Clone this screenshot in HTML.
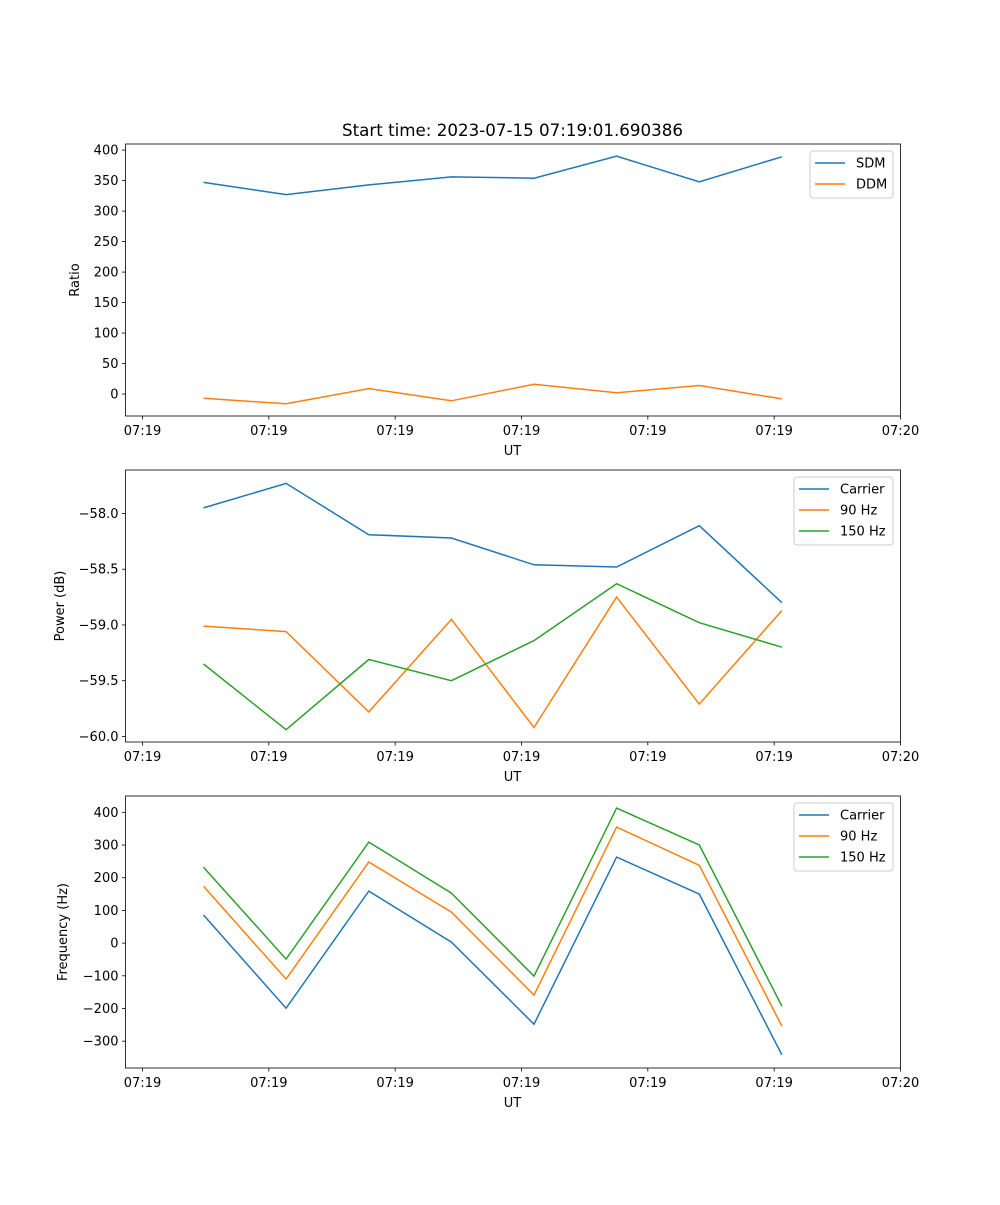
<!DOCTYPE html>
<html><head><meta charset="utf-8"><style>
body{margin:0;background:#fff}
svg text{font-family:"DejaVu Sans","Liberation Sans",sans-serif;font-size:13px;fill:#000}
</style></head><body>
<svg id="fig" width="1000" height="1200" xmlns="http://www.w3.org/2000/svg">
<text x="512.5" y="136" text-anchor="middle" style="font-size:16.7px">Start time: 2023-07-15 07:19:01.690386</text>
</svg>
<script>
const xTickVals=[0,10,20,30,40,50,60];
const xTickLabels=["07:19","07:19","07:19","07:19","07:19","07:19","07:20"];
const times=[4.83,11.37,17.91,24.45,30.99,37.53,44.07,50.61];
const sdm=[347,327,343,356,354,390,348,389];
const ddm=[-7,-16,9,-11,16,2,14,-8];
const pCarrier=[-57.95,-57.73,-58.19,-58.22,-58.46,-58.48,-58.11,-58.80];
const p90=[-59.01,-59.06,-59.78,-58.95,-59.92,-58.75,-59.71,-58.87];
const p150=[-59.35,-59.94,-59.31,-59.50,-59.14,-58.63,-58.98,-59.20];
const fCarrier=[86,-199,159,3,-248,263,150,-342];
const f90=[174,-110,248,95,-159,355,238,-254];
const f150=[232,-49,309,153,-101,413,300,-193];
const ticks1=[0,50,100,150,200,250,300,350,400];
const ticks2=[-60.0,-59.5,-59.0,-58.5,-58.0];
const ticks3=[-300,-200,-100,0,100,200,300,400];

const NS="http://www.w3.org/2000/svg";
const svg=document.getElementById('fig');
const C={b:'#1f77b4',o:'#ff7f0e',g:'#2ca02c'};
const L=125.5,R=900.5;
function xs(t){return 142.5+(t/60)*(900.5-142.5);}
function mk(tag,a){const e=document.createElementNS(NS,tag);for(const k in a)e.setAttribute(k,a[k]);svg.appendChild(e);return e;}
function fmt(v,d){let s=v.toFixed(d);return s.replace('-','\u2212');}

function panel(name,top,bot,ymin,ymax,yt,dec,ylabel,ylx,series,leg){
  const ys=v=>bot-(v-ymin)/(ymax-ymin)*(bot-top);
  series.forEach(s=>{
    const d=s.v.map((v,i)=>(i?'L':'M')+xs(times[i]).toFixed(1)+' '+ys(v).toFixed(1)).join(' ');
    const p=mk('path',{d:d,fill:'none',stroke:s.c,'stroke-width':1.5});
    
    
  });
  const fr=mk('rect',{x:L,y:top,width:R-L,height:bot-top,fill:'none',stroke:'#000','stroke-width':0.8});
  
  
  xTickVals.forEach((t,i)=>{
    const x=xs(t);
    mk('line',{x1:x,x2:x,y1:bot,y2:bot+3.5,stroke:'#000','stroke-width':0.8});
    const tx=mk('text',{x:x,y:bot+19,'text-anchor':'middle'});tx.textContent=xTickLabels[i];
    
    
  });
  yt.forEach(v=>{
    const y=ys(v);
    mk('line',{x1:L-3.5,x2:L,y1:y,y2:y,stroke:'#000','stroke-width':0.8});
    const tx=mk('text',{x:L-7,y:y+4.5,'text-anchor':'end'});tx.textContent=fmt(v,dec);
    
    
  });
  const xl=mk('text',{x:512.5,y:bot+39,'text-anchor':'middle'});xl.textContent='UT';
  
  
  const cy=(top+bot)/2;
  const yl=mk('text',{x:ylx,y:cy,'text-anchor':'middle',transform:`rotate(-90 ${ylx} ${cy})`});yl.textContent=ylabel;
  
  
  const lb=mk('rect',{x:leg.x,y:top+7,width:893-leg.x,height:series.length*21+5,rx:3,fill:'#fff','fill-opacity':0.8,stroke:'#ccc','stroke-width':1});
  
  
  series.forEach((s,i)=>{
    const y=top+19+i*21;
    mk('line',{x1:leg.x+5,x2:leg.x+35,y1:y,y2:y,stroke:s.c,'stroke-width':1.5});
    const t=mk('text',{x:leg.x+46,y:y+4.5});t.textContent=s.n;
    
    
  });
}
panel('ratio',144,416,-36,410,ticks1,0,'Ratio',79,[{n:'SDM',v:sdm,c:C.b},{n:'DDM',v:ddm,c:C.o}],{x:810});
panel('power',470,742,-60.05,-57.61,ticks2,1,'Power (dB)',64,[{n:'Carrier',v:pCarrier,c:C.b},{n:'90 Hz',v:p90,c:C.o},{n:'150 Hz',v:p150,c:C.g}],{x:794});
panel('frequency',796,1068,-382,450,ticks3,0,'Frequency (Hz)',67,[{n:'Carrier',v:fCarrier,c:C.b},{n:'90 Hz',v:f90,c:C.o},{n:'150 Hz',v:f150,c:C.g}],{x:794});
</script>
</body></html>
